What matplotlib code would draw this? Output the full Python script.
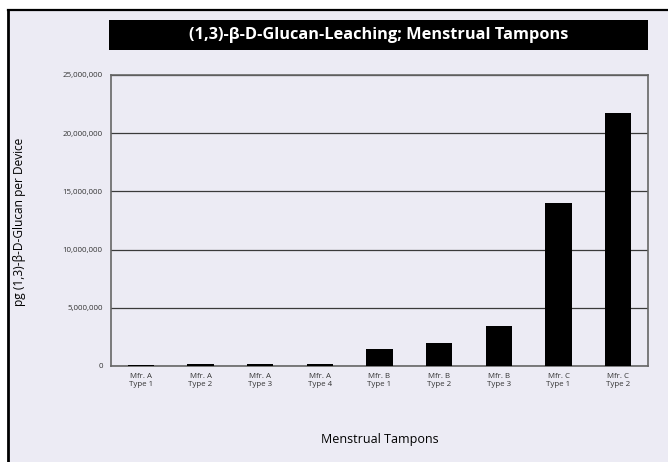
import matplotlib
matplotlib.use("Agg")
import matplotlib.pyplot as plt
from matplotlib.patches import Rectangle
from matplotlib.lines import Line2D

# data
categories = ["Mfr. A\nType 1", "Mfr. A\nType 2", "Mfr. A\nType 3", "Mfr. A\nType 4",
              "Mfr. B\nType 1", "Mfr. B\nType 2", "Mfr. B\nType 3",
              "Mfr. C\nType 1", "Mfr. C\nType 2"]
values = [80000, 150000, 140000, 140000, 1430000, 1940000, 3430000, 14000000, 21750000]
y_ticks = [0, 5000000, 10000000, 15000000, 20000000, 25000000]

BG = "#ECEBF4"
W, H = 668, 462

plt.rcParams['font.family'] = ['Open Sans', 'DejaVu Sans']

fig = plt.figure(figsize=(W / 100, H / 100), dpi=100)
fig.patch.set_facecolor("white")

# lavender page with black border on top and left
fig.add_artist(Rectangle((8 / W, 0), 1, 1 - 10 / H, transform=fig.transFigure,
                         facecolor=BG, edgecolor="none", zorder=0))
fig.add_artist(Line2D([8 / W, 1], [1 - 10 / H, 1 - 10 / H], transform=fig.transFigure,
                      color="black", lw=1.6, zorder=1))
fig.add_artist(Line2D([8 / W, 8 / W], [0, 1 - 10 / H], transform=fig.transFigure,
                      color="black", lw=2.0, zorder=1))

# title in a black box
fig.add_artist(Rectangle((109 / W, 1 - 50 / H), (648 - 109) / W, 30 / H,
                         transform=fig.transFigure, facecolor="black",
                         edgecolor="none", zorder=2))
fig.text((109 + 648) / 2 / W, 1 - 35 / H,
         "(1,3)-β-D-Glucan-Leaching; Menstrual Tampons",
         ha="center", va="center", color="white", fontsize=11.8,
         fontweight="bold", zorder=3)

ax = fig.add_axes([111 / W, 1 - 366 / H, (648 - 111) / W, (366 - 75) / H])
ax.set_facecolor(BG)

x = range(len(categories))
ax.bar(x, values, width=0.44, color="black", zorder=3)

ax.set_xlim(-0.5, len(categories) - 0.5)
ax.set_ylim(0, 25000000)
ax.set_yticks(y_ticks)
ax.set_yticklabels([f"{v:,}" for v in y_ticks])
ax.set_xticks(list(x))
ax.set_xticklabels(categories)
ax.yaxis.grid(True, color="#3a3a3a", lw=0.9, zorder=1)
ax.tick_params(axis="both", length=0, labelsize=5.7, colors="#333333", pad=6)
ax.tick_params(axis="x", pad=5)

for s in ax.spines.values():
    s.set_color("#666666")
    s.set_linewidth(1.2)

fig.text(20 / W, 1 - 222 / H, "pg (1,3)-β-D-Glucan per Device", rotation=90,
         ha="center", va="center", fontsize=8.6, color="black")
fig.text(380 / W, 1 - 440 / H, "Menstrual Tampons", ha="center", va="center",
         fontsize=9, color="black")

fig.savefig("out.png", dpi=100, facecolor=fig.get_facecolor())
